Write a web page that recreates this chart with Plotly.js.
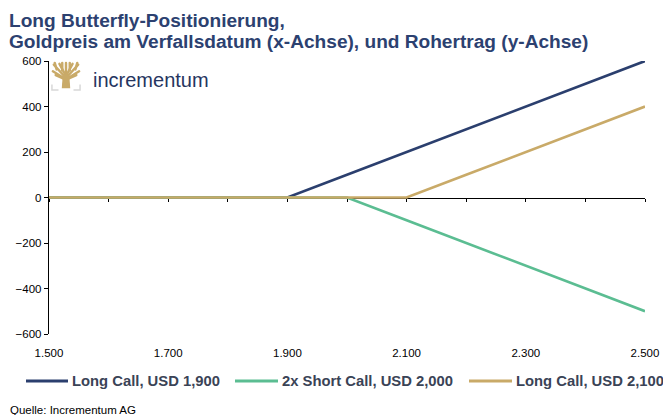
<!DOCTYPE html>
<html>
<head>
<meta charset="utf-8">
<script src="https://cdn.plot.ly/plotly-3.0.1.min.js"></script>
<style>html,body{margin:0;padding:0;background:#fff;}#chart{width:663px;height:415px;}</style>
</head>
<body>
<div id="chart"></div>
<script>
// Data
const goldPrice = [1500, 1600, 1700, 1800, 1900, 2000, 2100, 2200, 2300, 2400, 2500];
const longCall1900 = [0, 0, 0, 0, 0, 100, 200, 300, 400, 500, 600];
const shortCall2000x2 = [0, 0, 0, 0, 0, 0, -100, -200, -300, -400, -500];
const longCall2100 = [0, 0, 0, 0, 0, 0, 0, 100, 200, 300, 400];
const seriesNames = ["Long Call, USD 1,900", "2x Short Call, USD 2,000", "Long Call, USD 2,100"];
const seriesColors = ["#2b3f6e", "#5bbd92", "#c9aa68"];
const xTickVals = [1500, 1700, 1900, 2100, 2300, 2500];
const xTickText = ["1.500", "1.700", "1.900", "2.100", "2.300", "2.500"];
const yTickVals = [-600, -400, -200, 0, 200, 400, 600];

const W = 663, H = 415, ML = 49, MR = 18, MT = 61, MB = 81;
const PW = W - ML - MR, PH = H - MT - MB;
const px = v => (v - ML) / PW;           // pixel x -> paper x
const py = v => (H - MB - v) / PH;       // pixel y -> paper y

const font = "Liberation Sans, Arial, sans-serif";
const traces = [
  {x: goldPrice, y: longCall1900, name: seriesNames[0], mode: "lines", line: {color: seriesColors[0], width: 2.6}},
  {x: goldPrice, y: shortCall2000x2, name: seriesNames[1], mode: "lines", line: {color: seriesColors[1], width: 2.6}},
  {x: goldPrice, y: longCall2100, name: seriesNames[2], mode: "lines", line: {color: seriesColors[2], width: 2.6}},
  {x: [1500, 2500], y: [0, 0], xaxis: "x2", mode: "lines", showlegend: false, hoverinfo: "skip", line: {width: 0}}
];

const treeSvg = '<svg xmlns="http://www.w3.org/2000/svg" viewBox="0 0 32 32">' +
  '<g stroke="#c9aa68" stroke-width="2.6" fill="none" stroke-linecap="round">' +
  '<path d="M16 18 L16 2"/><path d="M16 16 L9 3"/><path d="M16 16 L23 3"/>' +
  '<path d="M15 17 L3 4"/><path d="M17 17 L29 4"/><path d="M15 19 L2 11"/><path d="M17 19 L30 11"/>' +
  '<path d="M12 10 L12 2"/><path d="M20 10 L20 2"/><path d="M6 9 L4 2"/><path d="M26 9 L28 2"/>' +
  '<path d="M14 19 L5 15"/><path d="M18 19 L27 15"/>' +
  '</g>' +
  '<path d="M12.5 15 L19.5 15 L20.5 29 L11.5 29 Z" fill="#c9aa68"/>' +
  '<path d="M1 25 L1 31 L8 31 M31 25 L31 31 L24 31" stroke="#d8d8d8" stroke-width="1.6" fill="none"/>' +
  '</svg>';

// manual legend (positions in pixels)
const legendY = 381;
const legendItems = [
  {x0: 26, x1: 68, tx: 70},
  {x0: 235, x1: 278, tx: 280},
  {x0: 469, x1: 512, tx: 514}
];
const shapes = legendItems.map((it, i) => ({
  type: "line", xref: "paper", yref: "paper", x0: px(it.x0), x1: px(it.x1), y0: py(legendY), y1: py(legendY),
  line: {color: seriesColors[i], width: 3}
}));
const legendAnn = legendItems.map((it, i) => ({
  text: seriesNames[i], xref: "paper", yref: "paper", x: px(it.tx), y: py(legendY), xanchor: "left", yanchor: "middle",
  showarrow: false, font: {family: font, size: 14.8, color: "#3a4356", weight: "bold"}
}));

const layout = {
  width: W, height: H,
  margin: {l: ML, r: MR, t: MT, b: MB},
  paper_bgcolor: "#fff", plot_bgcolor: "#fff",
  font: {family: font, size: 11.5, color: "#000"},
  showlegend: false,
  xaxis: {range: [1500, 2500], tickvals: xTickVals, ticktext: xTickText, showline: false, showgrid: false,
    zeroline: false, ticks: "", ticklabelstandoff: 10, automargin: false, tickfont: {size: 11.5, color: "#000"}},
  xaxis2: {range: [1500, 2500], overlaying: "x", anchor: "free", position: 0.5, side: "bottom",
    showline: true, linecolor: "#000", linewidth: 1.2, ticks: "outside", ticklen: 3, tickcolor: "#000",
    dtick: 100, tick0: 1500, showticklabels: false, showgrid: false, zeroline: false, layer: "below traces", automargin: false},
  yaxis: {range: [-600, 600], tickvals: yTickVals, showline: true, linecolor: "#000", linewidth: 1.2,
    ticks: "outside", ticklen: 4, tickcolor: "#000", showgrid: false, zeroline: false, automargin: false,
    tickfont: {size: 11.5, color: "#000"}},
  shapes: shapes,
  annotations: [
    {text: "Long Butterfly-Positionierung,", xref: "paper", yref: "paper", x: px(7), y: py(20),
     xanchor: "left", yanchor: "middle", showarrow: false, font: {family: font, size: 19.1, color: "#2c4170", weight: "bold"}},
    {text: "Goldpreis am Verfallsdatum (x-Achse), und Rohertrag (y-Achse)", xref: "paper", yref: "paper", x: px(7), y: py(41),
     xanchor: "left", yanchor: "middle", showarrow: false, font: {family: font, size: 19.1, color: "#2c4170", weight: "bold"}},
    {text: "incrementum", xref: "paper", yref: "paper", x: px(91), y: py(80), xanchor: "left", yanchor: "middle",
     showarrow: false, font: {family: font, size: 20, color: "#26355f"}},
    {text: "Quelle: Incrementum AG", xref: "paper", yref: "paper", x: px(8), y: py(410), xanchor: "left", yanchor: "middle",
     showarrow: false, font: {family: font, size: 11.5, color: "#000"}}
  ].concat(legendAnn),
  images: [
    {source: "data:image/svg+xml;base64," + btoa(treeSvg), xref: "paper", yref: "paper",
     x: px(51), y: py(61), sizex: 30 / PW, sizey: 30 / PH, xanchor: "left", yanchor: "top", sizing: "stretch", layer: "above"}
  ]
};

Plotly.newPlot("chart", traces, layout, {displayModeBar: false, staticPlot: true});
</script>
</body>
</html>
